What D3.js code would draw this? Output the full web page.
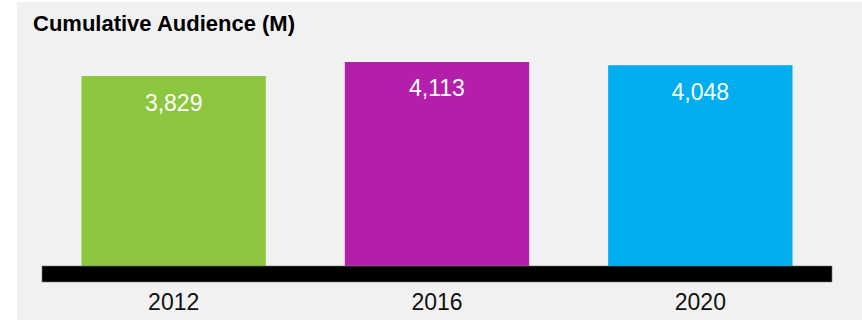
<!DOCTYPE html>
<html>
<head>
<meta charset="utf-8">
<script src="https://cdn.jsdelivr.net/npm/d3@7"></script>
<style>
  html, body { margin: 0; padding: 0; background: #ffffff; }
  svg { display: block; }
  text { font-family: "Liberation Sans", Arial, Helvetica, sans-serif; }
</style>
</head>
<body>
<svg id="chart" width="862" height="320"></svg>
<script>
// Cumulative audience per edition, in millions
const years = ["2012", "2016", "2020"];
const audience = [3829, 4113, 4048];
const barColors = ["#8dc63f", "#b31fab", "#00aeef"];
const title = "Cumulative Audience (M)";

const width = 862, height = 320;
const svg = d3.select("#chart");

// panel background
svg.append("rect")
  .attr("x", 17).attr("y", 2)
  .attr("width", width - 17).attr("height", height - 2)
  .attr("fill", "#f1f1f1");

const baseY = 266;
const x = d3.scaleBand()
  .domain(years)
  .range([42, 832])
  .paddingInner(0.3)
  .paddingOuter(0.15);

const y = d3.scaleLinear()
  .domain([0, 4500])
  .range([baseY, baseY - 223.2]);

const data = years.map((yr, i) => ({ year: yr, value: audience[i], color: barColors[i] }));
const fmt = d3.format(",");

// bars
svg.append("g").selectAll("rect")
  .data(data)
  .join("rect")
  .attr("x", d => x(d.year))
  .attr("y", d => y(d.value))
  .attr("width", x.bandwidth())
  .attr("height", d => y(0) - y(d.value))
  .attr("fill", d => d.color);

// value labels inside bars
svg.append("g").selectAll("text")
  .data(data)
  .join("text")
  .attr("x", d => x(d.year) + x.bandwidth() / 2)
  .attr("y", d => y(d.value) + 34.5)
  .attr("text-anchor", "middle")
  .attr("fill", "#ffffff")
  .attr("font-size", 23)
  .text(d => fmt(d.value));

// thick baseline
svg.append("rect")
  .attr("x", 42).attr("y", baseY)
  .attr("width", 790).attr("height", 16)
  .attr("fill", "#000000")
  .attr("stroke", "#7a7a7a")
  .attr("stroke-width", 0.6);

// category axis
const xAxis = d3.axisBottom(x).tickSize(0).tickPadding(0);
const axisG = svg.append("g")
  .attr("transform", `translate(0, ${baseY + 16})`)
  .call(xAxis);
axisG.select(".domain").remove();
axisG.selectAll("text")
  .attr("dy", null)
  .attr("y", 28)
  .attr("fill", "#111111")
  .attr("font-size", 23)
  .style("font-family", "'Liberation Sans', Arial, sans-serif");

// title
svg.append("text")
  .attr("x", 33).attr("y", 31)
  .attr("font-size", 22)
  .attr("font-weight", "bold")
  .attr("fill", "#000000")
  .text(title);
</script>
</body>
</html>
